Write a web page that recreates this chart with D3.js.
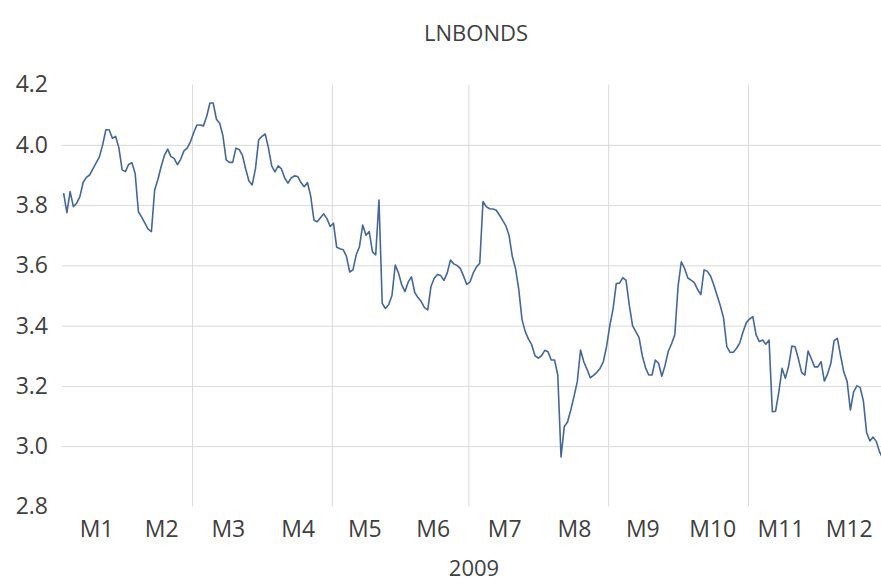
<!DOCTYPE html>
<html>
<head>
<meta charset="utf-8">
<script src="https://cdn.jsdelivr.net/npm/d3@7"></script>
<style>
  html, body { margin: 0; padding: 0; background: #ffffff; }
  svg { display: block; }
  text { font-family: "Open Sans", "DejaVu Sans", sans-serif; fill: #404040; }
</style>
</head>
<body>
<div id="chart"></div>
<script>
// Daily LNBONDS series for 2009, grouped by month (one value per trading day)
const months = ["M1", "M2", "M3", "M4", "M5", "M6", "M7", "M8", "M9", "M10", "M11", "M12"];
const yearLabel = "2009";
const chartTitle = "LNBONDS";

const janValues = [3.84, 3.775, 3.845, 3.795, 3.806, 3.828, 3.875, 3.892, 3.90, 3.92, 3.94, 3.96, 4.0, 4.05, 4.05, 4.022, 4.028, 3.99, 3.917, 3.911, 3.935];
const febValues = [3.941, 3.905, 3.778, 3.76, 3.74, 3.72, 3.712, 3.85, 3.885, 3.928, 3.965, 3.986, 3.961, 3.955, 3.934, 3.952, 3.98, 3.989, 4.01];
const marValues = [4.04, 4.066, 4.066, 4.063, 4.094, 4.139, 4.139, 4.085, 4.072, 4.03, 3.95, 3.942, 3.942, 3.989, 3.985, 3.965, 3.92, 3.88, 3.867, 3.92, 4.017, 4.028];
const aprValues = [4.036, 3.99, 3.93, 3.91, 3.93, 3.92, 3.89, 3.873, 3.89, 3.897, 3.895, 3.875, 3.861, 3.875, 3.83, 3.75, 3.745, 3.758, 3.771, 3.755, 3.729];
const mayValues = [3.74, 3.66, 3.655, 3.652, 3.63, 3.578, 3.585, 3.635, 3.662, 3.734, 3.70, 3.712, 3.645, 3.635, 3.817, 3.474, 3.457, 3.47, 3.50, 3.601];
const junValues = [3.575, 3.535, 3.513, 3.545, 3.562, 3.51, 3.493, 3.48, 3.46, 3.452, 3.53, 3.557, 3.57, 3.566, 3.55, 3.575, 3.618, 3.605, 3.60, 3.59, 3.565, 3.537];
const julValues = [3.545, 3.575, 3.595, 3.607, 3.812, 3.795, 3.788, 3.787, 3.784, 3.768, 3.75, 3.732, 3.70, 3.63, 3.59, 3.52, 3.42, 3.38, 3.355, 3.336, 3.30, 3.292];
const augValues = [3.30, 3.318, 3.313, 3.286, 3.286, 3.236, 2.964, 3.065, 3.08, 3.12, 3.165, 3.214, 3.319, 3.28, 3.255, 3.227, 3.235, 3.245, 3.258, 3.28, 3.33];
const sepValues = [3.40, 3.455, 3.54, 3.541, 3.559, 3.55, 3.468, 3.40, 3.38, 3.36, 3.30, 3.26, 3.236, 3.236, 3.286, 3.275, 3.232, 3.268, 3.315, 3.34, 3.37];
const octValues = [3.53, 3.612, 3.59, 3.558, 3.551, 3.543, 3.52, 3.503, 3.585, 3.58, 3.565, 3.535, 3.50, 3.466, 3.425, 3.33, 3.311, 3.312, 3.325, 3.343, 3.38, 3.41];
const novValues = [3.422, 3.43, 3.369, 3.347, 3.352, 3.338, 3.352, 3.114, 3.116, 3.18, 3.258, 3.225, 3.265, 3.332, 3.33, 3.29, 3.245, 3.236, 3.316, 3.29];
const decValues = [3.263, 3.263, 3.28, 3.216, 3.24, 3.275, 3.35, 3.358, 3.30, 3.245, 3.215, 3.12, 3.18, 3.20, 3.195, 3.15, 3.045, 3.017, 3.03, 3.015, 2.98, 2.96];

const yTicks = [2.8, 3.0, 3.2, 3.4, 3.6, 3.8, 4.0, 4.2];
const yGridValues = [3.0, 3.2, 3.4, 3.6, 3.8, 4.0];

const monthValues = [janValues, febValues, marValues, aprValues, mayValues, junValues,
                     julValues, augValues, sepValues, octValues, novValues, decValues];

// Flatten into one series, remembering where each month starts
const series = [];
const monthStart = [];
monthValues.forEach(vals => {
  monthStart.push(series.length);
  vals.forEach(v => series.push(v));
});
const nPoints = series.length;
const monthInfo = months.map((m, k) => ({
  label: m,
  start: monthStart[k],
  count: monthValues[k].length
}));
// vertical gridlines sit on every second month boundary
const gridBoundaries = monthInfo.filter((d, k) => k > 0 && k % 2 === 0).map(d => d.start);

const W = 881, H = 585;
const plot = { left: 62, right: 884.5, top: 84.6, bottom: 506.4 };

const svg = d3.select("#chart").append("svg")
  .attr("width", W).attr("height", H)
  .attr("viewBox", `0 0 ${W} ${H}`);

svg.append("rect").attr("width", W).attr("height", H).attr("fill", "#ffffff");

const x = d3.scaleLinear().domain([0, nPoints]).range([plot.left, plot.right]);
const y = d3.scaleLinear().domain([2.8, 4.2]).range([plot.bottom, plot.top]);

// horizontal gridlines
svg.append("g")
  .attr("transform", `translate(${plot.left},0)`)
  .call(d3.axisLeft(y).tickValues(yGridValues).tickSize(-(plot.right - plot.left)).tickFormat(""))
  .call(g => g.select(".domain").remove())
  .call(g => g.selectAll("line").attr("stroke", "#d9d9d9").attr("stroke-width", 1));

// vertical gridlines
svg.append("g")
  .attr("transform", `translate(0,${plot.bottom})`)
  .call(d3.axisBottom(x).tickValues(gridBoundaries).tickSize(-(plot.bottom - plot.top)).tickFormat(""))
  .call(g => g.select(".domain").remove())
  .call(g => g.selectAll("line").attr("stroke", "#d9d9d9").attr("stroke-width", 1));

// y-axis labels
svg.append("g")
  .attr("transform", `translate(${plot.left},0)`)
  .call(d3.axisLeft(y).tickValues(yTicks).tickSize(0).tickPadding(14).tickFormat(d3.format(".1f")))
  .call(g => g.select(".domain").remove())
  .call(g => g.selectAll("text")
    .style("font-family", "'Open Sans', sans-serif")
    .attr("font-size", 23).attr("fill", "#404040"));

// month labels, centred on each month's span
svg.append("g")
  .attr("transform", `translate(0,${plot.bottom})`)
  .call(d3.axisBottom(x)
    .tickValues(monthInfo.map(d => d.start + d.count / 2))
    .tickSize(0).tickPadding(14)
    .tickFormat((d, k) => monthInfo[k].label))
  .call(g => g.select(".domain").remove())
  .call(g => g.selectAll("text")
    .style("font-family", "'Open Sans', sans-serif")
    .attr("font-size", 23).attr("fill", "#404040"));

// year label
svg.append("text")
  .attr("x", 474)
  .attr("y", 576)
  .attr("text-anchor", "middle")
  .attr("font-size", 22)
  .text(yearLabel);

// title
svg.append("text")
  .attr("x", 476)
  .attr("y", 41)
  .attr("text-anchor", "middle")
  .attr("font-size", 22)
  .text(chartTitle);

// the series line
const line = d3.line()
  .x((d, i) => x(i + 0.5))
  .y(d => y(d));

svg.append("path")
  .datum(series)
  .attr("fill", "none")
  .attr("stroke", "#44679a")
  .attr("stroke-width", 1.6)
  .attr("stroke-linejoin", "round")
  .attr("d", line);
</script>
</body>
</html>
